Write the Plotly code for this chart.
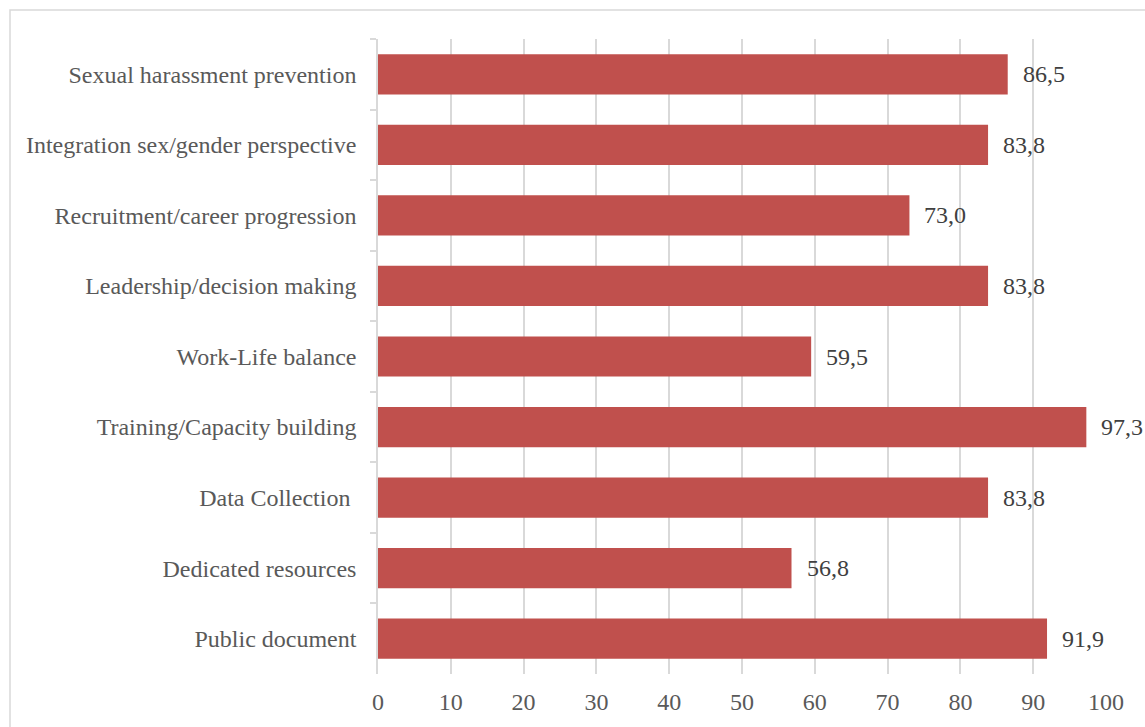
import plotly.graph_objects as go

categories = [
    "Sexual harassment prevention",
    "Integration sex/gender perspective",
    "Recruitment/career progression",
    "Leadership/decision making",
    "Work-Life balance",
    "Training/Capacity building",
    "Data Collection ",
    "Dedicated resources",
    "Public document",
]
values = [86.5, 83.8, 73.0, 83.8, 59.5, 97.3, 83.8, 56.8, 91.9]
x_ticks = [0, 10, 20, 30, 40, 50, 60, 70, 80, 90, 100]

labels = [f"{v:.1f}".replace(".", ",") for v in values]

FONT = "Liberation Serif"
FS = 24
W, H = 1145, 727
L, R, T, B = 378, 39, 39, 51

fig = go.Figure()
fig.add_trace(go.Bar(
    y=categories, x=values, orientation="h",
    marker=dict(color="#C0504D", line=dict(width=0)),
    width=0.57,
    hoverinfo="skip",
))

for c, v, t in zip(categories, values, labels):
    fig.add_annotation(x=v, y=c, text=t, showarrow=False, xanchor="left",
                       xshift=13, font=dict(family=FONT, size=FS, color="#404040"))

pw = W - L - R
ph = H - T - B
fig.add_shape(type="rect", xref="paper", yref="paper",
              x0=(10 - L) / pw, x1=1.2, y0=-0.3, y1=1 + (T - 10) / ph,
              line=dict(color="#D9D9D9", width=1.5), fillcolor="rgba(0,0,0,0)", layer="below")

fig.update_layout(
    width=W, height=H,
    margin=dict(l=L, r=R, t=T, b=B),
    paper_bgcolor="white", plot_bgcolor="white",
    showlegend=False,
    font=dict(family=FONT, size=FS, color="#595959"),
    xaxis=dict(range=[0, 100], tickvals=x_ticks, showgrid=True, gridcolor="#D9D9D9",
               gridwidth=1.5, zeroline=False, showline=False, ticks="",
               tickfont=dict(family=FONT, size=FS, color="#595959"), ticklabelstandoff=11),
    yaxis=dict(autorange="reversed", showline=True, linecolor="#D9D9D9", linewidth=1.5,
               ticks="outside", tickson="boundaries", ticklen=6, tickcolor="#D9D9D9",
               tickwidth=1.5, showgrid=False,
               tickfont=dict(family=FONT, size=FS, color="#595959"), ticklabelstandoff=15),
)

fig.write_html(
    "out.html",
    config={"displayModeBar": False},
    post_script="document.body.style.margin='0';document.body.style.overflow='hidden';",
)
